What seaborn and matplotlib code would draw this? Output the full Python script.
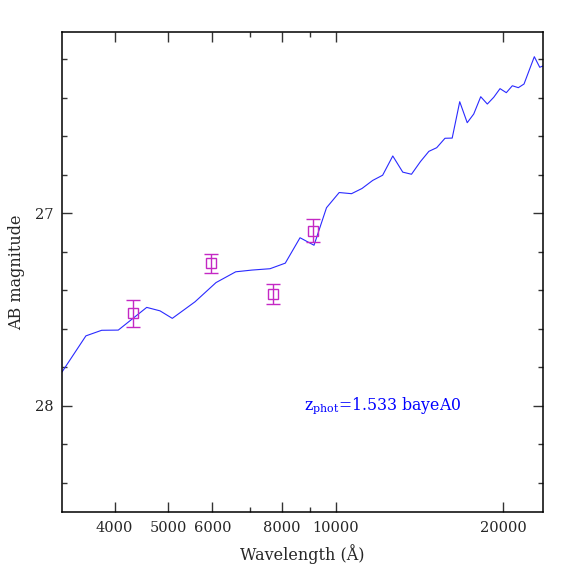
import numpy as np
import pandas as pd
import matplotlib
matplotlib.use("Agg")
import matplotlib.pyplot as plt
import seaborn as sns
from matplotlib.ticker import FixedLocator, NullFormatter, MultipleLocator

# best-fit template (wavelength in Angstrom, AB magnitude)
sed_wave = [3218, 3553, 3793, 4063, 4571, 4830, 5082, 5583, 6091, 6609,
            7070, 7618, 8115, 8626, 9141, 9626, 10146, 10677, 11150, 11657,
            12147, 12667, 13202, 13688, 14207, 14710, 15195, 15726, 16202, 16716,
            17243, 17714, 18235, 18740, 19244, 19753, 20275, 20785, 21308, 21817,
            22768, 23284, 23700]
sed_mag = [27.825, 27.637, 27.608, 27.607, 27.489, 27.507, 27.546, 27.460, 27.360, 27.304,
           27.295, 27.288, 27.259, 27.127, 27.166, 26.971, 26.892, 26.898, 26.871, 26.829,
           26.802, 26.702, 26.786, 26.797, 26.731, 26.678, 26.659, 26.610, 26.609, 26.420,
           26.529, 26.484, 26.394, 26.432, 26.397, 26.352, 26.373, 26.337, 26.347, 26.328,
           26.186, 26.241, 26.232]

# observed photometry
phot_wave = [4323, 5959, 7722, 9085]
phot_mag = [27.52, 27.26, 27.42, 27.09]
phot_err = [0.071, 0.049, 0.050, 0.060]

x_ticks = [4000, 5000, 6000, 8000, 10000, 20000]
x_minor = [7000, 9000]
y_ticks = [27, 28]

label = r"z$_{\mathrm{phot}}$=1.533 bayeA0"

sns.set_style("ticks")
plt.rcParams['font.family'] = ['DejaVu Serif']
plt.rcParams['mathtext.fontset'] = 'dejavuserif'

fig = plt.figure(figsize=(5.74, 5.74), dpi=100)
ax = fig.add_axes([0.108, 0.1075, 0.8385, 0.8373])

sed = pd.DataFrame({"wave": sed_wave, "mag": sed_mag})
sns.lineplot(data=sed, x="wave", y="mag", sort=False, color="#2a2aff",
             linewidth=0.8, ax=ax)

ax.errorbar(phot_wave, phot_mag, yerr=phot_err, fmt='s', mfc='none',
            mec='#c428c4', ecolor='#c428c4', ms=7, mew=1.0,
            elinewidth=1.0, capsize=5, capthick=1.0)

ax.set_xscale('log')
ax.set_xlim(3218, 23630)
ax.set_ylim(28.554, 26.056)

ax.xaxis.set_major_locator(FixedLocator(x_ticks))
ax.xaxis.set_minor_locator(FixedLocator(x_minor))
ax.set_xticklabels([str(t) for t in x_ticks])
ax.xaxis.set_minor_formatter(NullFormatter())
ax.yaxis.set_major_locator(FixedLocator(y_ticks))
ax.yaxis.set_minor_locator(MultipleLocator(0.2))
ax.set_yticklabels([str(t) for t in y_ticks])

ax.tick_params(which='both', direction='in', top=True, right=True,
               labelsize=10.5, color='#333333', pad=6)
ax.tick_params(which='major', length=7, width=1.0)
ax.tick_params(which='minor', length=3.5, width=1.0)
for sp in ax.spines.values():
    sp.set_linewidth(1.1)
    sp.set_color('black')

ax.set_xlabel("Wavelength (Å)", fontsize=11.5, labelpad=7)
ax.set_ylabel("AB magnitude", fontsize=11.5, labelpad=7)

ax.text(8770, 28.0, label, color='blue', fontsize=11.3, ha='left', va='center')

plt.savefig("out.png", dpi=100)
